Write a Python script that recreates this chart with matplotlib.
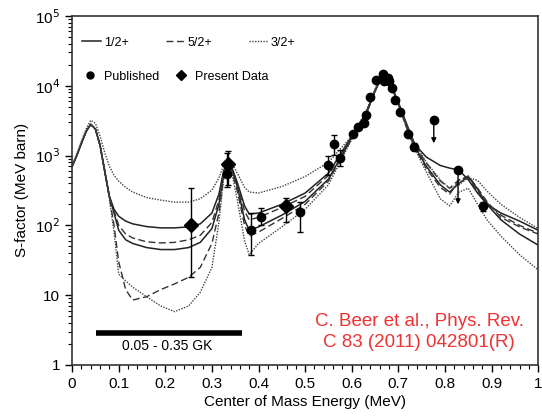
import matplotlib
matplotlib.use("Agg")
from matplotlib import pyplot as plt
from matplotlib.lines import Line2D
from matplotlib.ticker import MultipleLocator, LogLocator, NullFormatter
import numpy as np

plt.rcParams['font.family'] = ['Liberation Sans', 'DejaVu Sans']

# energy grid (MeV) shared by the model curves
E = [0.0, 0.01, 0.02, 0.03, 0.04, 0.05, 0.06, 0.07, 0.08, 0.09, 0.10, 0.115, 0.13,
     0.16, 0.19, 0.22, 0.25, 0.275, 0.30, 0.315, 0.325, 0.333, 0.342, 0.355, 0.37,
     0.38, 0.40, 0.45, 0.50, 0.55, 0.60, 0.63, 0.65, 0.665, 0.68, 0.70, 0.72, 0.735,
     0.76, 0.79, 0.81, 0.83, 0.85, 0.87, 0.89, 0.92, 0.96, 1.0]

# 1/2+ fits
half_a = [700, 1000, 1500, 2200, 2800, 2400, 1400, 600, 260, 170, 135, 115, 105,
          96, 92, 92, 95, 105, 150, 280, 600, 820, 700, 400, 190,
          145, 150, 200, 290, 560, 1900, 4000, 8500, 14000, 12000, 5800, 2600, 1450,
          950, 720, 660, 620, 450, 290, 200, 150, 115, 85]
half_b = [700, 1000, 1500, 2200, 2800, 2400, 1400, 600, 260, 150, 85, 62, 55,
          48, 45, 45, 48, 57, 90, 200, 520, 780, 650, 350, 120,
          85, 95, 140, 220, 460, 1800, 3900, 8400, 14000, 11800, 5500, 2400, 1350,
          700, 380, 300, 400, 500, 330, 200, 120, 75, 52]
# 5/2+ fits
five_a = [700, 1000, 1500, 2200, 2800, 2400, 1400, 600, 260, 160, 100, 75, 66,
          58, 56, 57, 62, 72, 110, 230, 560, 800, 680, 380, 160,
          120, 130, 180, 260, 520, 1850, 3900, 8500, 14000, 11800, 5600, 2500, 1400,
          780, 430, 340, 450, 470, 310, 210, 140, 100, 77]
five_b = [700, 1000, 1500, 2200, 2800, 2400, 1400, 600, 250, 100, 30, 12, 8.5,
          9.5, 12, 14.5, 18, 25, 55, 150, 480, 760, 620, 300, 100,
          70, 80, 125, 200, 430, 1750, 3800, 8300, 14000, 11500, 5400, 2300, 1300,
          650, 350, 280, 440, 510, 340, 220, 130, 95, 75]
# 3/2+ fits
three_a = [720, 1050, 1600, 2400, 3200, 2900, 1900, 1100, 700, 520, 430, 350, 300,
           250, 230, 215, 215, 240, 320, 480, 720, 880, 800, 550, 350,
           300, 290, 360, 500, 800, 1900, 4200, 9000, 14500, 12000, 5600, 2500, 1500,
           800, 450, 340, 380, 480, 440, 310, 200, 130, 90]
three_b = [700, 1000, 1500, 2200, 2800, 2400, 1400, 600, 240, 80, 20, 16, 13,
           9.5, 7, 5.8, 7, 11, 25, 110, 450, 750, 600, 220, 60,
           38, 55, 95, 170, 380, 1700, 3700, 8200, 14000, 11500, 5300, 2200, 1250,
           580, 240, 190, 300, 340, 200, 120, 70, 38, 23]

# published data
pub_E = [0.333, 0.383, 0.405, 0.49, 0.548, 0.561, 0.574, 0.602, 0.613, 0.626, 0.63,
         0.639, 0.652, 0.667, 0.669, 0.677, 0.68, 0.686, 0.693, 0.703, 0.72, 0.733, 0.882]
pub_S = [550, 85, 130, 155, 720, 1480, 910, 2060, 2600, 2950, 3860,
         6900, 12200, 14800, 11800, 13000, 11800, 9400, 6300, 4250, 2060, 1340, 187]
pub_lo = [350, 37, 100, 80, 520, 1030, 700, 2060, 2600, 2950, 3860,
          6900, 12200, 14800, 11800, 13000, 11800, 9400, 6300, 4250, 2060, 1200, 160]
pub_hi = [1100, 150, 175, 215, 1000, 1950, 1200, 2060, 2600, 2950, 3860,
          6900, 12200, 14800, 11800, 13000, 11800, 9400, 6300, 4250, 2060, 1500, 215]

# published upper limits
lim_E = [0.776, 0.828]
lim_S = [3250, 630]
lim_to = [1500, 200]

# present data
pres_E = [0.256, 0.334, 0.458]
pres_S = [100, 760, 190]
pres_lo = [18, 380, 110]
pres_hi = [340, 1150, 250]

fig = plt.figure(figsize=(5.42, 4.19), dpi=100)
ax = fig.add_axes([0.133, 0.129, 0.860, 0.833])

solid = dict(color='#222222', lw=1.1, ls='-')
dashed = dict(color='#333333', lw=1.0, ls=(0, (5, 2.5)))
dotted = dict(color='#444444', lw=1.0, ls=(0, (1, 1)))

ax.plot(E, half_a, **solid)
ax.plot(E, half_b, **solid)
ax.plot(E, five_a, **dashed)
ax.plot(E, five_b, **dashed)
ax.plot(E, three_a, **dotted)
ax.plot(E, three_b, **dotted)

pub_err = [np.array(pub_S) - np.array(pub_lo), np.array(pub_hi) - np.array(pub_S)]
ax.errorbar(pub_E, pub_S, yerr=pub_err, fmt='o', color='black', ms=6,
            elinewidth=1, capsize=2.5, capthick=1)
pres_err = [np.array(pres_S) - np.array(pres_lo), np.array(pres_hi) - np.array(pres_S)]
ax.errorbar(pres_E, pres_S, yerr=pres_err, fmt='D', color='black', ms=7,
            elinewidth=1, capsize=2.5, capthick=1)

ax.plot(lim_E, lim_S, 'o', color='black', ms=6)
for e, s, t in zip(lim_E, lim_S, lim_to):
    ax.annotate('', xy=(e, t), xytext=(e, s),
                arrowprops=dict(arrowstyle='-|>', color='black', lw=1,
                                mutation_scale=7, shrinkA=0, shrinkB=0))

# temperature window bar
ax.plot([0.052, 0.365], [2.9, 2.9], color='black', lw=4, solid_capstyle='butt')
ax.text(0.205, 1.88, '0.05 - 0.35 GK', ha='center', va='center', fontsize=10)

ax.text(0.745, 3.0, 'C. Beer et al., Phys. Rev.\nC 83 (2011) 042801(R)',
        ha='center', va='center', fontsize=13.5, color='#ee3333', linespacing=1.3)

ax.set_yscale('log')
ax.set_xlim(0, 1)
ax.set_ylim(1, 1e5)
ax.xaxis.set_minor_locator(MultipleLocator(0.02))
ax.set_xticks(np.arange(0, 1.01, 0.1))
ax.set_xticklabels(['0', '0.1', '0.2', '0.3', '0.4', '0.5', '0.6', '0.7', '0.8', '0.9', '1'])
ax.set_yticks([1, 10, 100, 1000, 1e4, 1e5])
ax.set_yticklabels(['1', '10', '10$^2$', '10$^3$', '10$^4$', '10$^5$'])
ax.yaxis.set_minor_locator(LogLocator(base=10, subs=np.arange(2, 10)))
ax.yaxis.set_minor_formatter(NullFormatter())
ax.tick_params(axis='both', which='major', direction='out', length=5, width=1,
               labelsize=11, top=False, right=False)
ax.tick_params(axis='both', which='minor', direction='out', length=3, width=0.8,
               top=False, right=False)
for sp in ax.spines.values():
    sp.set_linewidth(1.2)
    sp.set_color('#333333')

ax.set_xlabel('Center of Mass Energy (MeV)', fontsize=11, labelpad=3)
ax.set_ylabel('S-factor (MeV barn)', fontsize=11, labelpad=4)

line_handles = [Line2D([], [], **solid), Line2D([], [], **dashed), Line2D([], [], **dotted)]
leg1 = ax.legend(line_handles, ['1/2+', '5/2+', '3/2+'], ncol=3, frameon=False,
                 loc='upper left', bbox_to_anchor=(0.022, 0.94), fontsize=9,
                 handlelength=1.5, handletextpad=0.2, columnspacing=3.0,
                 borderpad=0, borderaxespad=0)
ax.add_artist(leg1)
mark_handles = [Line2D([], [], marker='o', ls='', color='black', ms=5),
                Line2D([], [], marker='D', ls='', color='black', ms=5)]
ax.legend(mark_handles, ['Published', 'Present Data'], ncol=2, frameon=False,
          loc='upper left', bbox_to_anchor=(0.022, 0.843), fontsize=9,
          handlelength=1.2, handletextpad=0.5, columnspacing=1.2,
          borderpad=0, borderaxespad=0)

fig.savefig('out.png', dpi=100)
